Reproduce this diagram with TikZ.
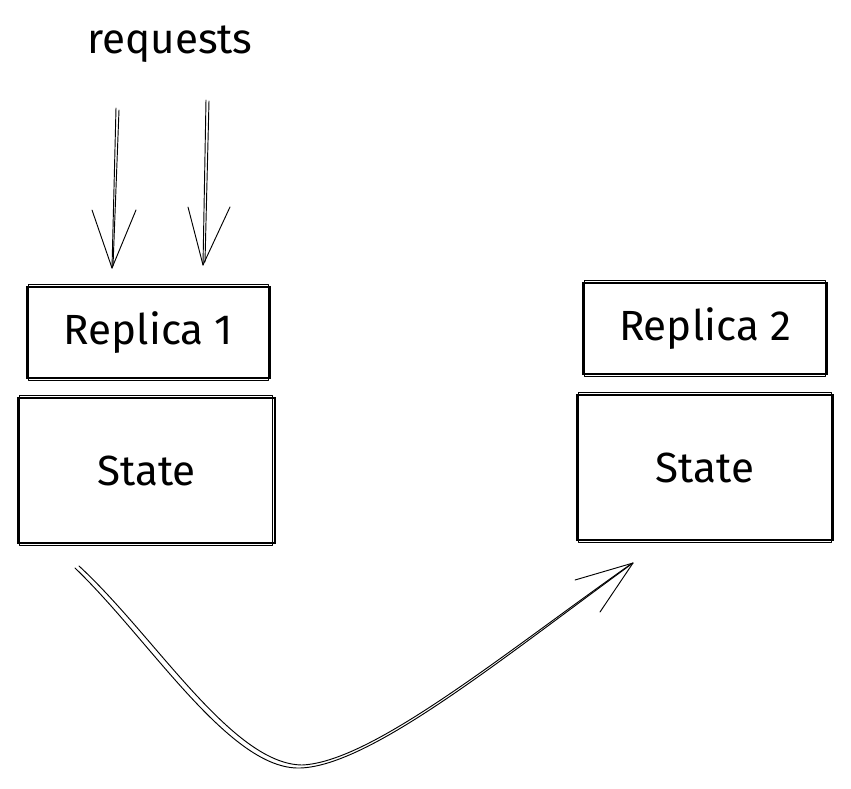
\documentclass[tikz,border=0pt]{standalone}
\usepackage{fontspec}
\setmainfont{Fira Sans}
\usetikzlibrary{calc}

\tikzset{
  box/.style={draw, line width=0.9pt, inner sep=0pt},
  rough/.style={line width=0.8pt, line cap=round, line join=round},
  hand/.style={font=\fontsize{36}{42}\selectfont},
}

\begin{document}
\begin{tikzpicture}[x=0.03cm,y=-0.03cm]

\useasboundingbox (0,0) rectangle (851,788) ;

% incoming requests
\node[hand] (req) at (170,44) {requests} ;

\coordinate (inA) at (116,108) ;
\coordinate (tipA) at (112,268) ;
\coordinate (inB) at (206,100) ;
\coordinate (tipB) at (203,265) ;

\draw[rough] (inA) -- (tipA) ;
\draw[rough] ($(inA)+(3,2)$) -- ($(tipA)+(1,-2)$) ;
\draw[rough] (tipA) -- (92,210) ;
\draw[rough] (tipA) -- (136,210) ;

\draw[rough] (inB) -- (tipB) ;
\draw[rough] ($(inB)+(3,1)$) -- ($(tipB)+(2,-3)$) ;
\draw[rough] (tipB) -- (188,207) ;
\draw[rough] (tipB) -- (230,207) ;

% replica 1
\node[box, hand, minimum width=7.29cm, minimum height=2.73cm] (rep1) at (148.5,332.5) {Replica 1} ;
\draw[rough] ($(rep1.north west)+(2,-2)$) rectangle ($(rep1.south east)+(-2,2)$) ;

\node[box, hand, minimum width=7.71cm, minimum height=4.35cm] (st1) at (146.5,470.5) {State} ;
\draw[rough] ($(st1.north west)+(2,-2)$) rectangle ($(st1.south east)+(-3,2)$) ;

% replica 2
\node[box, hand, minimum width=7.32cm, minimum height=2.73cm] (rep2) at (705,328.5) {Replica 2} ;
\draw[rough] ($(rep2.north west)+(2,-2)$) rectangle ($(rep2.south east)+(-2,2)$) ;

\node[box, hand, minimum width=7.68cm, minimum height=4.35cm] (st2) at (705,467.5) {State} ;
\draw[rough] ($(st2.north west)+(2,-2)$) rectangle ($(st2.south east)+(-2,2)$) ;

% state transfer
\coordinate (out) at (75,568) ;
\coordinate (low) at (300,768) ;
\coordinate (back) at (633,563) ;

\draw[rough] (out) .. controls (150,640) and (230,770) .. (low)
  .. controls (370,766) and (500,660) .. (back) ;
\draw[rough] ($(out)+(4,-2)$) .. controls (155,636) and (232,764) .. ($(low)+(2,-3)$)
  .. controls (372,762) and (502,655) .. ($(back)+(-2,1)$) ;
\draw[rough] (back) -- (575,580) ;
\draw[rough] (back) -- (600,612) ;

\end{tikzpicture}
\end{document}
